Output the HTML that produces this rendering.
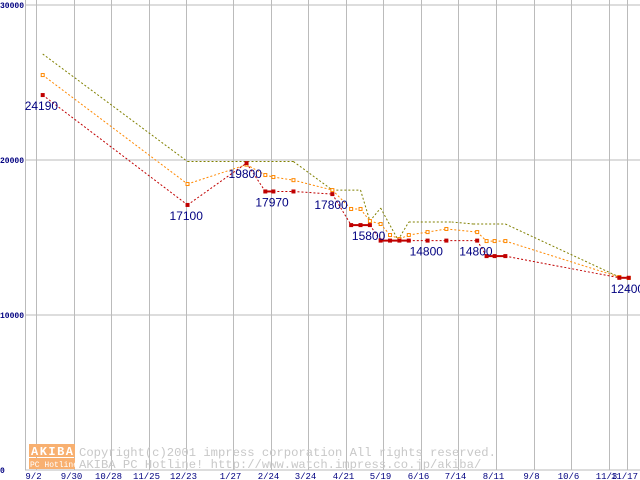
<!DOCTYPE html>
<html><head><meta charset="utf-8"><style>
html,body{margin:0;padding:0;background:#fff;width:640px;height:480px;overflow:hidden}
svg{display:block}
</style></head><body>
<svg id="chart" width="640" height="480" xmlns="http://www.w3.org/2000/svg" font-family="'Liberation Mono', monospace">
<g id="grid"></g>
<g id="wm">
  <rect x="29" y="444" width="46" height="13" fill="#f8b070"/>
  <text x="31" y="455" font-size="12" font-weight="bold" fill="#fff" letter-spacing="1.5">AKIBA</text>
  <rect x="29" y="458" width="46" height="11" fill="#f8b070"/>
  <text x="30" y="467" font-size="8" fill="#fff">PC Hotline!</text>
  <text x="79" y="456" font-size="12.2" fill="#c8c8c8">Copyright(c)2001 impress corporation All rights reserved.</text>
  <text x="79" y="468" font-size="12.2" fill="#c8c8c8">AKIBA PC Hotline!  http://www.watch.impress.co.jp/akiba/</text>
</g>
<g id="series"></g>
<g id="labels"></g>
</svg>
<script>
const xTickLabels = ["9/2","9/30","10/28","11/25","12/23","1/27","2/24","3/24","4/21","5/19","6/16","7/14","8/11","9/8","10/6","11/3","11/17"];
const xTickDays = [0,28,56,84,112,147,175,203,231,259,287,315,343,371,399,427,441];
const yTicks = [0,10000,20000,30000];
const minDays = [5,113,157,171,177,192,221,235,242,249,257,264,271,278,292,306,329,336,342,350,435,442];
const minValues = [24190,17100,19800,17970,17970,17970,17800,15800,15800,15800,14800,14800,14800,14800,14800,14800,14800,13800,13800,13800,12400,12400];
const avgValues = [25480,18450,19700,19030,18900,18700,18060,16840,16840,16060,15870,15160,14900,15160,15350,15550,15350,14770,14770,14770,12450,12390];
const maxDays = [5,113,192,221,242,249,257,270,278,310,326,350,435];
const maxValues = [26840,19900,19900,18060,18060,16060,16900,14840,16000,16000,15870,15870,12450];
const labelDays = [5,113,157,177,221,249,292,329,442];
const labelValues = [24190,17100,19800,17970,17800,15800,14800,14800,12400];

const NS="http://www.w3.org/2000/svg";
const X=d=>36+d*1.341;
const Y=v=>470-v*0.0155;
function mk(t,a,p){const e=document.createElementNS(NS,t);for(const k in a)e.setAttribute(k,a[k]);p.appendChild(e);return e;}
const grid=document.getElementById('grid'),ser=document.getElementById('series'),lab=document.getElementById('labels');

yTicks.forEach(v=>{
  const l=mk('line',{x1:25,x2:640,y1:Y(v),y2:Y(v),stroke:'#bbb','stroke-width':1},grid);
  
  
  const t=mk('text',{x:0,y:Math.max(Y(v)+3,7),'font-size':8,'font-weight':'bold',fill:'#000080'},grid);
  t.textContent=String(v);
  
  
});
const ax=mk('line',{x1:25.5,x2:25.5,y1:0,y2:470,stroke:'#bbb'},grid);


xTickDays.forEach((d,i)=>{
  const x=Math.round(X(d))+0.5;
  const l=mk('line',{x1:x,x2:x,y1:0,y2:470,stroke:'#bbb'},grid);
  
  
  const t=mk('text',{x:x-3,y:479,'font-size':9,fill:'#000080','text-anchor':'middle'},grid);
  t.textContent=xTickLabels[i];
  
  
});

function line(days,vals,color,name,solidGap){
  for(let i=1;i<days.length;i++){
    const solid=solidGap&&days[i]-days[i-1]<=8&&vals[i]===vals[i-1];
    const l=mk('line',{x1:X(days[i-1]),y1:Y(vals[i-1]),x2:X(days[i]),y2:Y(vals[i]),stroke:color,'stroke-width':solid?2:1,'stroke-dasharray':solid?'none':'2,2'},ser);
    
    
  }
}
line(maxDays,maxValues,'#808000','max-price',false);
line(minDays,avgValues,'#ff8800','avg-price',false);
line(minDays,minValues,'#c00000','min-price',true);
minDays.forEach((d,i)=>{
  const r=mk('rect',{x:X(d)-1.5,y:Y(avgValues[i])-1.5,width:3,height:3,fill:'#fff',stroke:'#ff8800','stroke-width':1},ser);
  
  
});
minDays.forEach((d,i)=>{
  const r=mk('rect',{x:X(d)-2,y:Y(minValues[i])-2,width:4,height:4,fill:'#c00000'},ser);
  
  
});
labelDays.forEach((d,i)=>{
  const t=mk('text',{x:X(d)-18,y:Y(labelValues[i])+15,'font-size':12,fill:'#000080','font-family':"'Liberation Sans', sans-serif"},lab);
  t.textContent=String(labelValues[i]);
  
  
});
</script>
</body></html>
